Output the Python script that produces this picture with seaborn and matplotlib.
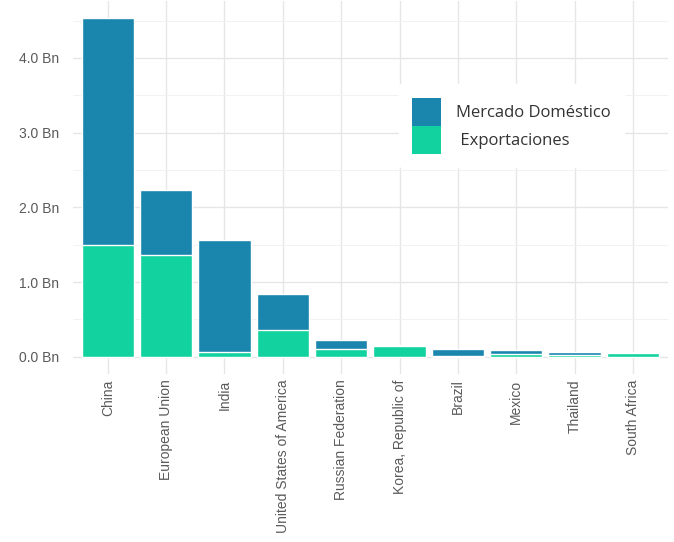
import matplotlib
matplotlib.use("Agg")
import matplotlib.pyplot as plt
import matplotlib.patches as mpatches
import numpy as np
import pandas as pd
import seaborn as sns

countries = ["China", "European Union", "India", "United States of America",
             "Russian Federation", "Korea, Republic of", "Brazil", "Mexico",
             "Thailand", "South Africa"]
# billions of units
domestic = [3.03, 0.87, 1.49, 0.48, 0.12, 0.005, 0.10, 0.05, 0.04, 0.01]
exports = [1.50, 1.36, 0.07, 0.36, 0.11, 0.15, 0.01, 0.04, 0.03, 0.05]

col_dom = "#1A85AD"
col_exp = "#12D39F"
grey_txt = "#5a5a5a"

df = pd.DataFrame({"country": countries, "domestic": domestic, "exports": exports})
df["total"] = df["domestic"] + df["exports"]

sns.set_style("whitegrid")
plt.rcParams["font.family"] = ["Liberation Sans", "DejaVu Sans"]

fig = plt.figure(figsize=(6.74, 5.42), dpi=100)
ax = fig.add_axes([0.108, 0.310, 0.883, 0.688])

sns.barplot(data=df, x="country", y="total", color=col_dom, width=0.9,
            edgecolor="white", linewidth=1, saturation=1, ax=ax)
sns.barplot(data=df, x="country", y="exports", color=col_exp, width=0.9,
            edgecolor="white", linewidth=1, saturation=1, ax=ax)

ax.set_xlim(-0.6, len(countries) - 0.4)
ax.set_ylim(-0.23, 4.76)
yt = [0, 1, 2, 3, 4]
ax.set_yticks(yt)
ax.set_yticklabels([f"{v:.1f} Bn" for v in yt])
ax.set_yticks([0.5, 1.5, 2.5, 3.5, 4.5], minor=True)
ax.grid(True, which="major", color="#e6e6e6", linewidth=1.0)
ax.grid(True, which="minor", axis="y", color="#f0f0f0", linewidth=0.6)
ax.set_axisbelow(True)
for s in ax.spines.values():
    s.set_visible(False)
ax.set_xlabel("")
ax.set_ylabel("")
ax.tick_params(axis="both", length=0, colors=grey_txt, labelsize=10)
ax.tick_params(axis="x", pad=4)
ax.tick_params(axis="y", pad=10)
plt.setp(ax.get_xticklabels(), rotation=90, ha="center", va="top")

handles = [mpatches.Patch(facecolor=col_dom, edgecolor="none", label="Mercado Doméstico"),
           mpatches.Patch(facecolor=col_exp, edgecolor="none", label=" Exportaciones")]
leg = ax.legend(handles=handles, loc="upper left", bbox_to_anchor=(0.534, 0.799),
                frameon=True, facecolor="white", edgecolor="white", framealpha=1,
                prop={"family": "Open Sans", "size": 12},
                handlelength=1.75, handleheight=2.2, labelspacing=0.0,
                handletextpad=0.9, borderpad=0.8)
for t in leg.get_texts():
    t.set_color("#333333")

fig.savefig("out.png", dpi=100)
